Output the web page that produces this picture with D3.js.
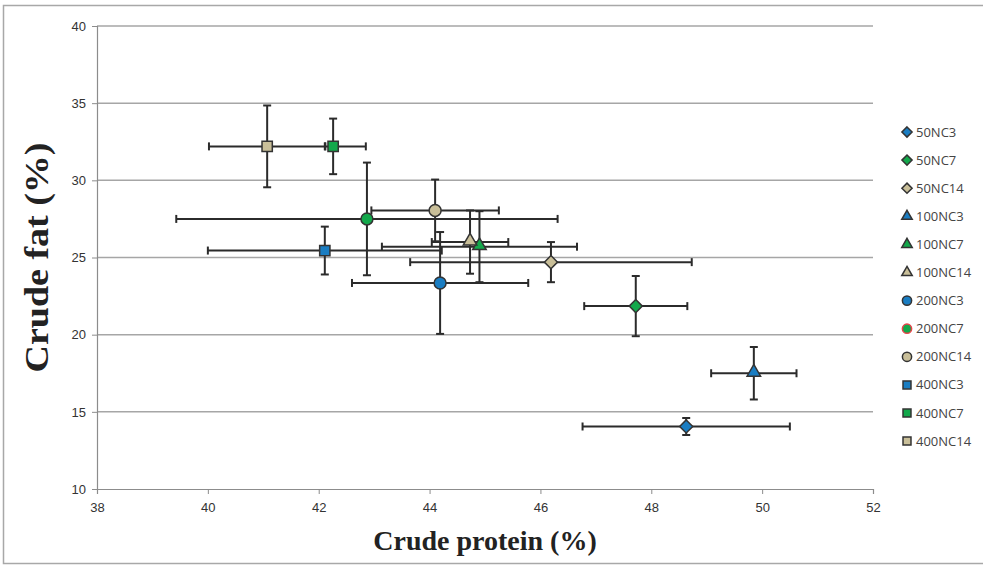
<!DOCTYPE html>
<html><head><meta charset="utf-8">
<script src="https://cdn.jsdelivr.net/npm/d3@7"></script>
<style>body{margin:0;background:#fff}svg{display:block}</style>
</head><body>
<svg id="c" width="983" height="566"></svg>
<script>
const names  = ["50NC3","50NC7","50NC14","100NC3","100NC7","100NC14","200NC3","200NC7","200NC14","400NC3","400NC7","400NC14"];
const protein = [48.63, 47.72, 46.19, 49.85, 44.90, 44.73, 44.19, 42.87, 44.10, 42.11, 42.26, 41.07];
const fat     = [14.05, 21.85, 24.70, 17.50, 25.70, 26.00, 23.35, 27.50, 28.05, 25.45, 32.20, 32.20];
const proteinErrMinus = [1.87, 0.93, 2.54, 0.77, 1.76, 0.69, 1.59, 3.44, 1.15, 2.11, 0.15, 1.05];
const proteinErrPlus  = [1.87, 0.93, 2.54, 0.77, 1.76, 0.69, 1.59, 3.44, 1.15, 2.11, 0.59, 1.05];
const fatErr     = [0.55, 1.95, 1.30, 1.70, 2.30, 2.05, 3.30, 3.65, 2.00, 1.55, 1.80, 2.65];
const shapes = ["diamond","diamond","diamond","triangle","triangle","triangle","circle","circle","circle","square","square","square"];
const fills  = ["#1a7dc2","#13a84b","#c9bf99","#1a7dc2","#13a84b","#c9bf99","#1a7dc2","#13a84b","#c9bf99","#1a7dc2","#13a84b","#c9bf99"];
const legendStroke = ["#333","#333","#333","#333","#333","#333","#333","#e8414a","#333","#333","#333","#333"];
const xTicks = [38,40,42,44,46,48,50,52];
const yTicks = [10,15,20,25,30,35,40];

const svg = d3.select("#c");
const L=97,R=873,T=26,B=489;
const x = d3.scaleLinear().domain([38,52]).range([L,R]);
const y = d3.scaleLinear().domain([10,40]).range([B,T]);

// outer frame
svg.append("rect").attr("x",3.5).attr("y",5.5).attr("width",990).attr("height",558)
  .attr("fill","none").attr("stroke","#a8a8a8").attr("stroke-width",1.5);

// grid
svg.append("g").selectAll("line").data(yTicks.filter(d=>d>10)).join("line")
  .attr("x1",L).attr("x2",R).attr("y1",d=>y(d)).attr("y2",d=>y(d))
  .attr("stroke","#a6a6a6").attr("stroke-width",1.5);

// axes
const yAx = svg.append("g").attr("transform",`translate(${L},0)`)
  .call(d3.axisLeft(y).tickValues(yTicks).tickSize(5).tickPadding(6));
const xAx = svg.append("g").attr("transform",`translate(0,${B})`)
  .call(d3.axisBottom(x).tickValues(xTicks).tickSize(5).tickPadding(9));
[yAx,xAx].forEach(g=>{
  g.select(".domain").attr("stroke","#8c8c8c").attr("stroke-width",1.2);
  g.selectAll(".tick line").attr("stroke","#8c8c8c");
  g.selectAll("text").attr("font-family","'Liberation Sans Narrow','Liberation Sans',sans-serif")
    .attr("font-size",13).attr("fill","#333");
});

// titles
svg.append("text").attr("x",485).attr("y",550).attr("text-anchor","middle")
  .attr("font-family","'Liberation Serif','Times New Roman',serif").attr("font-weight","bold")
  .attr("font-size",28).attr("fill","#222").text("Crude protein (%)");
svg.append("text").attr("transform",`translate(48,${(T+B)/2}) rotate(-90)`).attr("text-anchor","middle")
  .attr("font-family","'Liberation Serif','Times New Roman',serif").attr("font-weight","bold")
  .attr("font-size",34).attr("textLength",230).attr("lengthAdjust","spacingAndGlyphs")
  .attr("fill","#222").text("Crude fat (%)");

const idx = d3.range(names.length);
const eb = svg.append("g").attr("stroke","#2b2b2b").attr("stroke-width",2).attr("fill","none");
const cap=4;
idx.forEach(i=>{
  const cx=x(protein[i]), cy=y(fat[i]);
  const x0=x(protein[i]-proteinErrMinus[i]), x1=x(protein[i]+proteinErrPlus[i]);
  const y0=y(fat[i]-fatErr[i]), y1=y(fat[i]+fatErr[i]);
  eb.append("line").attr("x1",x0).attr("x2",x1).attr("y1",cy).attr("y2",cy);
  eb.append("line").attr("x1",x0).attr("x2",x0).attr("y1",cy-cap).attr("y2",cy+cap);
  eb.append("line").attr("x1",x1).attr("x2",x1).attr("y1",cy-cap).attr("y2",cy+cap);
  eb.append("line").attr("x1",cx).attr("x2",cx).attr("y1",y0).attr("y2",y1);
  eb.append("line").attr("x1",cx-cap).attr("x2",cx+cap).attr("y1",y0).attr("y2",y0);
  eb.append("line").attr("x1",cx-cap).attr("x2",cx+cap).attr("y1",y1).attr("y2",y1);
});

const symType = {diamond:d3.symbolDiamond2, triangle:d3.symbolTriangle2, circle:d3.symbolCircle, square:d3.symbolSquare2};
const symSize = {diamond:110, triangle:130, circle:112, square:135};
function sym(s,scale){return d3.symbol().type(symType[s]).size(symSize[s]*scale)();}

svg.append("g").selectAll("path").data(idx).join("path")
  .attr("transform",i=>`translate(${x(protein[i])},${y(fat[i]) + (shapes[i]==="triangle"?-1:0)})`)
  .attr("d",i=>sym(shapes[i],1))
  .attr("fill",i=>fills[i]).attr("stroke","#333").attr("stroke-width",1.5);

// legend
const lg = svg.append("g");
idx.forEach(i=>{
  const ly = 132 + i*28.1;
  lg.append("path").attr("transform",`translate(907,${ly})`).attr("d",sym(shapes[i],0.6))
    .attr("fill",fills[i]).attr("stroke",legendStroke[i]).attr("stroke-width",1.5);
  lg.append("text").attr("x",916).attr("y",ly+4.5).attr("font-family","'Open Sans','Liberation Sans',sans-serif")
    .attr("font-size",13).attr("fill","#444").text(names[i]);
});
</script>
</body></html>
